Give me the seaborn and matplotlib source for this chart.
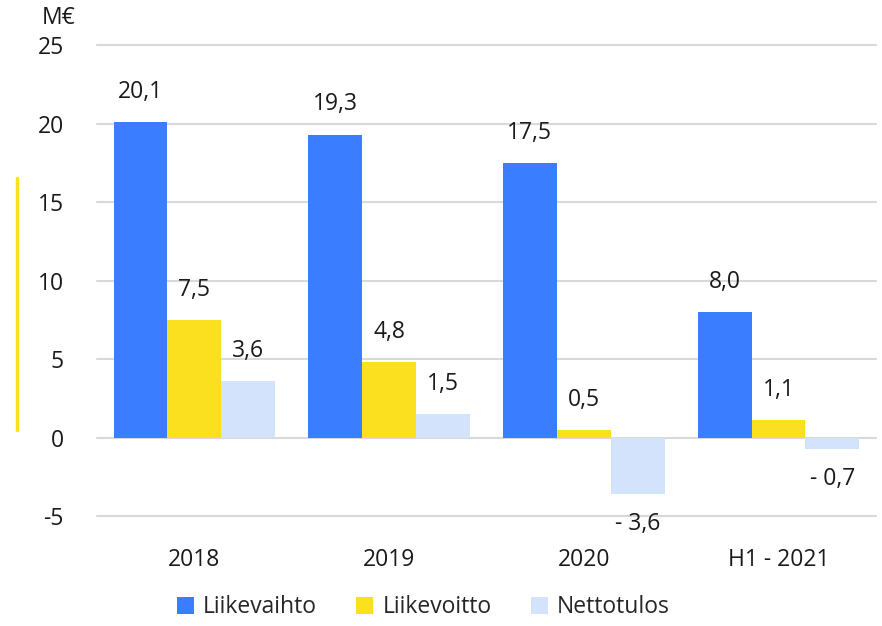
import matplotlib
matplotlib.use("Agg")
import matplotlib.pyplot as plt
import seaborn as sns
import pandas as pd
from matplotlib.lines import Line2D
from matplotlib.patches import Patch

categories = ["2018", "2019", "2020", "H1 - 2021"]
series_names = ["Liikevaihto", "Liikevoitto", "Nettotulos"]
liikevaihto = [20.1, 19.3, 17.5, 8.0]
liikevoitto = [7.5, 4.8, 0.5, 1.1]
nettotulos = [3.6, 1.5, -3.6, -0.7]
yticks = [-5, 0, 5, 10, 15, 20, 25]
colors = ["#3A7DFF", "#FAE01E", "#D3E3FB"]

rows = []
for name, vals in zip(series_names, [liikevaihto, liikevoitto, nettotulos]):
    for c, v in zip(categories, vals):
        rows.append({"Vuosi": c, "Sarja": name, "Arvo": v})
df = pd.DataFrame(rows)

sns.set_style("white")
plt.rcParams["font.family"] = ["Open Sans", "DejaVu Sans"]
plt.rcParams["axes.unicode_minus"] = False

FS = 16.5
fig = plt.figure(figsize=(8.82, 6.26), dpi=100)
ax = fig.add_axes([0.110, 0.1757, 0.883, 0.7523])

sns.barplot(data=df, x="Vuosi", y="Arvo", hue="Sarja", order=categories,
            hue_order=series_names, palette=colors, width=0.83,
            saturation=1, ax=ax, legend=False, errorbar=None, linewidth=0)

ax.set_ylim(-5, 25)
ax.set_xlim(-0.5, 3.5)
ax.set_yticks(yticks)
ax.set_yticklabels([str(t) for t in yticks])
ax.set_xlabel("")
ax.set_ylabel("")
for s in ax.spines.values():
    s.set_visible(False)
ax.set_axisbelow(True)
for t in yticks:
    ax.axhline(t, color="#d9d9d9", lw=1.5, zorder=0, clip_on=False)
ax.tick_params(axis="y", length=0, pad=24, labelsize=FS, labelcolor="#1a1a1a")
ax.tick_params(axis="x", length=0, pad=23, labelsize=FS, labelcolor="#1a1a1a")

def fmt(v):
    s = f"{abs(v):.1f}".replace(".", ",")
    return ("- " + s) if v < 0 else s

for cont, vals in zip(ax.containers, [liikevaihto, liikevoitto, nettotulos]):
    ax.bar_label(cont, labels=[fmt(v) for v in vals], padding=13,
                 fontsize=FS, color="#1a1a1a")

handles = [Patch(facecolor=c, edgecolor="none") for c in colors]
fig.legend(handles, series_names, loc="lower center", bbox_to_anchor=(0.48, 0.0),
           ncol=3, frameon=False, fontsize=FS, handlelength=0.75,
           handleheight=0.75, handletextpad=0.4, columnspacing=1.7,
           borderaxespad=0.1, borderpad=0.2)

fig.text(0.066, 0.972, "M€", ha="center", va="center", fontsize=FS, color="#1a1a1a")
fig.add_artist(Line2D([0.0195, 0.0195], [0.313, 0.716], color="#FAE01E", lw=2.5,
                      transform=fig.transFigure))

fig.savefig("out.png", dpi=100)
